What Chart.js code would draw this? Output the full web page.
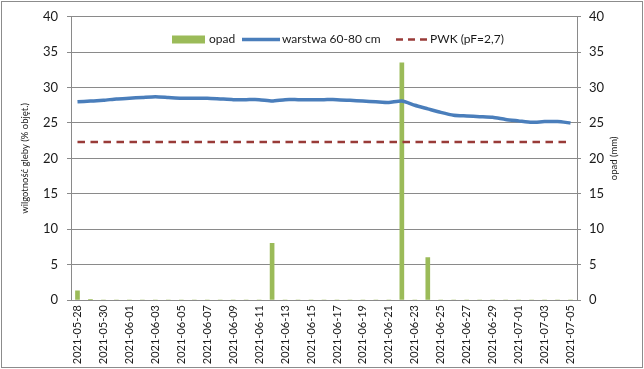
<!DOCTYPE html>
<html>
<head>
<meta charset="utf-8">
<script src="https://cdn.jsdelivr.net/npm/chart.js@4.4.1/dist/chart.umd.min.js"></script>
<style>
  html, body { margin: 0; padding: 0; background: #ffffff; }
  #wrap { width: 644px; height: 369px; }
</style>
</head>
<body>
<div id="wrap"><canvas id="c" width="644" height="369"></canvas></div>
<script>
const dates = [
  '2021-05-28','2021-05-29','2021-05-30','2021-05-31','2021-06-01','2021-06-02','2021-06-03',
  '2021-06-04','2021-06-05','2021-06-06','2021-06-07','2021-06-08','2021-06-09','2021-06-10',
  '2021-06-11','2021-06-12','2021-06-13','2021-06-14','2021-06-15','2021-06-16','2021-06-17',
  '2021-06-18','2021-06-19','2021-06-20','2021-06-21','2021-06-22','2021-06-23','2021-06-24',
  '2021-06-25','2021-06-26','2021-06-27','2021-06-28','2021-06-29','2021-06-30','2021-07-01',
  '2021-07-02','2021-07-03','2021-07-04','2021-07-05'
];
const moisture = [
  28.0, 28.1, 28.2, 28.4, 28.5, 28.6, 28.7,
  28.6, 28.5, 28.5, 28.5, 28.4, 28.3, 28.3,
  28.3, 28.1, 28.3, 28.3, 28.3, 28.3, 28.3,
  28.2, 28.1, 28.0, 27.9, 28.1, 27.5, 27.0,
  26.5, 26.1, 26.0, 25.9, 25.8, 25.5, 25.3,
  25.1, 25.2, 25.2, 25.0
];
const rainfall = [
  1.3, 0.1, 0, 0, 0, 0, 0,
  0, 0, 0, 0, 0, 0, 0,
  0, 8.0, 0, 0, 0, 0, 0,
  0, 0, 0, 0, 33.5, 0, 6.0,
  0, 0, 0, 0, 0, 0, 0,
  0, 0, 0, 0
];
const pwkDates = ['2021-05-28', '2021-07-05'];
const pwkValues = [22.3, 22.3];
const yTicks = [0, 5, 10, 15, 20, 25, 30, 35, 40];

const seriesNames = ['opad', 'warstwa 60-80 cm', 'PWK (pF=2,7)'];
const leftTitle = 'wilgotność gleby (% objęt.)';
const rightTitle = 'opad (mm)';

const FONT = 'Lato, "Liberation Sans", sans-serif';
const GREEN = '#9BBB59', BLUE = '#4A7EBB', RED = '#993B38', GRID = '#8A8A8A', TXT = '#1a1a1a';

const decor = {
  id: 'decor',
  beforeDraw(chart) {
    const ctx = chart.ctx;
    ctx.save();
    ctx.fillStyle = '#ffffff';
    ctx.fillRect(0, 0, chart.width, chart.height);
    ctx.restore();
  },
  afterDraw(chart) {
    const ctx = chart.ctx;
    const ca = chart.chartArea;
    ctx.save();
    // outer border
    ctx.strokeStyle = '#8C8C8C';
    ctx.lineWidth = 1;
    ctx.strokeRect(1.5, 1.5, chart.width - 3, chart.height - 3);
    // axis titles
    ctx.fillStyle = TXT;
    ctx.font = '9.5px ' + FONT;
    ctx.textAlign = 'center';
    ctx.textBaseline = 'middle';
    const midY = (ca.top + ca.bottom) / 2;
    ctx.save();
    ctx.translate(25, midY);
    ctx.rotate(-Math.PI / 2);
    ctx.fillText(leftTitle, 0, 0);
    ctx.restore();
    ctx.save();
    ctx.translate(614, midY);
    ctx.rotate(-Math.PI / 2);
    ctx.fillText(rightTitle, 0, 0);
    ctx.restore();
    // legend
    const ly = 39.5;
    ctx.font = '12px ' + FONT;
    ctx.textAlign = 'left';
    ctx.fillStyle = GREEN;
    ctx.fillRect(172, ly - 4, 33, 8);
    ctx.fillStyle = TXT;
    ctx.fillText(seriesNames[0], 209, ly);
    ctx.strokeStyle = BLUE;
    ctx.lineWidth = 3.5;
    ctx.beginPath(); ctx.moveTo(242, ly); ctx.lineTo(280, ly); ctx.stroke();
    ctx.fillText(seriesNames[1], 282, ly);
    ctx.strokeStyle = RED;
    ctx.lineWidth = 2.5;
    ctx.setLineDash([7, 5]);
    ctx.beginPath(); ctx.moveTo(396, ly); ctx.lineTo(427, ly); ctx.stroke();
    ctx.setLineDash([]);
    ctx.fillText(seriesNames[2], 430, ly);
    ctx.restore();
  }
};

new Chart(document.getElementById('c'), {
  data: {
    labels: dates,
    datasets: [
      {
        type: 'line',
        label: seriesNames[1],
        data: moisture,
        yAxisID: 'y',
        borderColor: BLUE,
        borderWidth: 3.5,
        pointRadius: 0,
        tension: 0.2,
        order: 1
      },
      {
        type: 'line',
        label: seriesNames[2],
        data: pwkDates.map((d, i) => ({ x: d, y: pwkValues[i] })),
        yAxisID: 'y',
        borderColor: RED,
        borderWidth: 2.5,
        borderDash: [7.5, 5.5],
        pointRadius: 0,
        order: 2
      },
      {
        type: 'bar',
        label: seriesNames[0],
        data: rainfall,
        yAxisID: 'y1',
        backgroundColor: GREEN,
        barThickness: 4,
        order: 3
      }
    ]
  },
  options: {
    responsive: false,
    animation: false,
    devicePixelRatio: 1,
    layout: { padding: { top: 16, left: 0, right: 0, bottom: 0 } },
    plugins: { legend: { display: false }, tooltip: { enabled: false } },
    scales: {
      x: {
        type: 'category',
        offset: true,
        grid: { display: false, drawTicks: false },
        border: { display: true, color: GRID, width: 1 },
        ticks: {
          autoSkip: false,
          minRotation: 90,
          maxRotation: 90,
          padding: 5,
          color: TXT,
          font: { family: FONT, size: 11 },
          callback: function (v, i) { return i % 2 === 0 ? this.getLabelForValue(v) : ''; }
        },
        afterFit(scale) { scale.height = 69; }
      },
      y: {
        position: 'left',
        min: 0, max: 40,
        afterBuildTicks(scale) { scale.ticks = yTicks.map(v => ({ value: v })); },
        grid: { color: GRID, lineWidth: 1, tickLength: 4, tickColor: GRID },
        border: { display: true, color: GRID, width: 1 },
        ticks: { padding: 9, color: TXT, font: { family: FONT, size: 13 } },
        afterFit(scale) { scale.width = 71; }
      },
      y1: {
        position: 'right',
        min: 0, max: 40,
        afterBuildTicks(scale) { scale.ticks = yTicks.map(v => ({ value: v })); },
        grid: { display: true, drawOnChartArea: false, tickLength: 4, tickColor: GRID },
        border: { display: true, color: GRID, width: 1 },
        ticks: { padding: 8, color: TXT, font: { family: FONT, size: 13 } },
        afterFit(scale) { scale.width = 67; }
      }
    }
  },
  plugins: [decor]
});
</script>
</body>
</html>
